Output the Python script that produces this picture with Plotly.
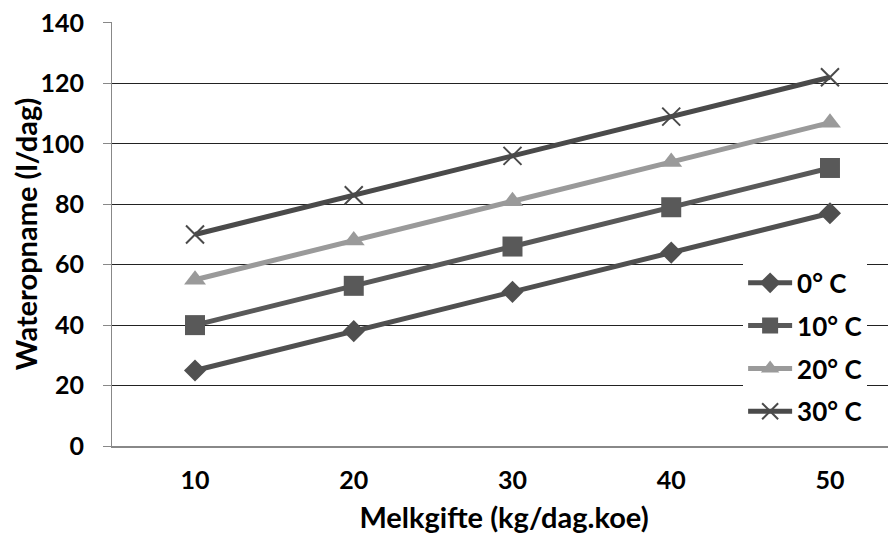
import plotly.graph_objects as go

melkgifte = [10, 20, 30, 40, 50]
temp_labels = ["0° C", "10° C", "20° C", "30° C"]
water_0 = [25, 38, 51, 64, 77]
water_10 = [40, 53, 66, 79, 92]
water_20 = [55, 68, 81, 94, 107]
water_30 = [70, 83, 96, 109, 122]
y_ticks = [0, 20, 40, 60, 80, 100, 120, 140]

series = [water_0, water_10, water_20, water_30]
colors = ["#505050", "#595959", "#9a9a9a", "#4a4a4a"]
markers = [
    dict(symbol="diamond", size=17),
    dict(symbol="square", size=20),
    dict(symbol="triangle-up", size=19),
    dict(symbol="x-thin", size=18, line=dict(width=2)),
]

font_family = "Lato, 'Open Sans', sans-serif"

fig = go.Figure()
for i, vals in enumerate(series):
    mk = dict(markers[i])
    mk["color"] = colors[i]
    if "line" in mk:
        mk["line"] = dict(width=2, color=colors[i])
    fig.add_trace(go.Scatter(
        x=melkgifte, y=vals, name=temp_labels[i],
        mode="lines+markers",
        line=dict(color=colors[i], width=5),
        marker=mk,
        legendgroup=f"g{i}",
    ))

# page body has an 8px margin, so the margins are shifted by that amount
fig.update_layout(
    width=896, height=541,
    margin=dict(l=104, r=8, t=14, b=103, autoexpand=False),
    paper_bgcolor="white", plot_bgcolor="white",
    font=dict(family=font_family, size=25, color="black", weight="bold"),
    showlegend=True,
    legend=dict(
        x=0.805, xanchor="left", y=0.025, yanchor="bottom",
        bgcolor="white", font=dict(size=26, weight="bold"),
        tracegroupgap=6, itemwidth=44,
    ),
)
fig.update_xaxes(
    range=[4.77, 54.16], tickvals=melkgifte,
    showgrid=False, zeroline=False, automargin=False,
    showline=True, linecolor="#888888", linewidth=2,
    ticks="", ticklabelstandoff=11,
    title=dict(text="Melkgifte (kg/dag.koe)", font=dict(size=29, weight="bold"), standoff=15),
)
fig.update_yaxes(
    range=[0, 140.3], tickvals=y_ticks, automargin=False,
    showgrid=True, gridcolor="#222222", gridwidth=1,
    zeroline=False, ticklabeloverflow="allow",
    showline=True, linecolor="#888888", linewidth=1,
    ticks="outside", ticklen=8, tickcolor="#888888",
    ticklabelstandoff=14,
    title=dict(text="Wateropname (l/dag)", font=dict(size=29, weight="bold"), standoff=8),
)

fig.write_html("out.html")
